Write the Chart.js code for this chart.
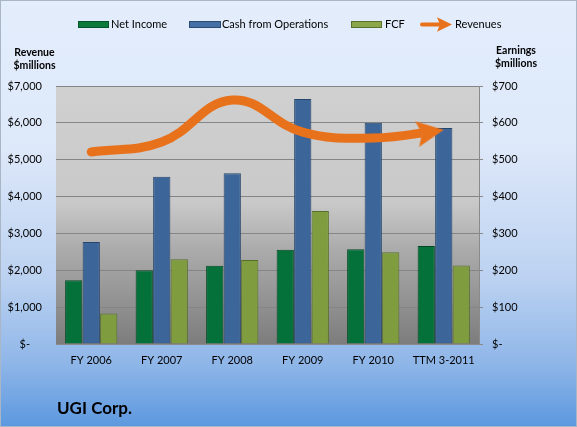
<!DOCTYPE html>
<html><head><meta charset="utf-8">
<script src="https://cdn.jsdelivr.net/npm/chart.js@4.4.1/dist/chart.umd.min.js"></script>
<style>
html,body{margin:0;padding:0;background:#fff;}
#c{display:block;}
</style></head>
<body>
<canvas id="c" width="577" height="427" style="width:577px;height:427px"></canvas>
<script>
const categories = ['FY 2006', 'FY 2007', 'FY 2008', 'FY 2009', 'FY 2010', 'TTM 3-2011'];
const netIncome = [173, 200, 212, 256, 257, 266];
const cashFromOperations = [277, 454, 463, 665, 600, 586];
const freeCashFlow = [83, 230, 228, 361, 249, 213];
const revenues = [5210, 5480, 6620, 5750, 5590, 5810];
const revenueTicks = [0, 1000, 2000, 3000, 4000, 5000, 6000, 7000];
const earningsTicks = [0, 100, 200, 300, 400, 500, 600, 700];
const seriesNames = ['Net Income', 'Cash from Operations', 'FCF', 'Revenues'];
const chartTitle = 'UGI Corp.';

const FONT = 'Lato, "DejaVu Sans", sans-serif';
const ORANGE = '#E8721C';

// arrow head image (tip at the image centre)
const arrowImg = document.createElement('canvas');
arrowImg.width = 60; arrowImg.height = 30;
(function(){
  const g = arrowImg.getContext('2d');
  g.fillStyle = ORANGE;
  g.beginPath();
  g.moveTo(30, 15);
  g.lineTo(3, 2);
  g.lineTo(8, 15);
  g.lineTo(3, 28);
  g.closePath();
  g.fill();
})();

const decorPlugin = {
  id: 'decor',
  beforeDraw(chart) {
    const ctx = chart.ctx;
    const W = chart.width, H = chart.height;
    ctx.save();
    // page background
    const pg = ctx.createLinearGradient(0, 0, 0, H);
    pg.addColorStop(0, '#E3EDFC');
    pg.addColorStop(0.35, '#DDE8F9');
    pg.addColorStop(0.65, '#BCD2F1');
    pg.addColorStop(0.85, '#8FB6E8');
    pg.addColorStop(1, '#5C98DF');
    ctx.fillStyle = pg;
    ctx.fillRect(0, 0, W, H);
    ctx.strokeStyle = '#A9B6C6';
    ctx.lineWidth = 1;
    ctx.strokeRect(0.5, 0.5, W - 1, H - 1);
    // plot area background
    const a = chart.chartArea;
    const bg = ctx.createLinearGradient(0, a.top, 0, a.bottom);
    bg.addColorStop(0, '#D0D0D0');
    bg.addColorStop(0.45, '#C9C9C9');
    bg.addColorStop(0.62, '#ADADAD');
    bg.addColorStop(1, '#7D7D7D');
    ctx.fillStyle = bg;
    ctx.fillRect(a.left, a.top, a.right - a.left, a.bottom - a.top);
    ctx.restore();
  },
  afterDraw(chart) {
    const ctx = chart.ctx;
    ctx.save();
    // legend
    const swatches = [
      {x: 78, w: 31, fill: '#0B7A3B', stroke: '#05532A', text: seriesNames[0], tx: 111},
      {x: 189, w: 32, fill: '#4570A6', stroke: '#2B4A74', text: seriesNames[1], tx: 222},
      {x: 351, w: 31, fill: '#8AA849', stroke: '#5A702C', text: seriesNames[2], tx: 385}
    ];
    ctx.font = '11px ' + FONT;
    ctx.textBaseline = 'middle';
    ctx.textAlign = 'left';
    swatches.forEach(s => {
      ctx.fillStyle = s.fill;
      ctx.fillRect(s.x, 21.5, s.w, 6);
      ctx.strokeStyle = s.stroke;
      ctx.lineWidth = 1;
      ctx.strokeRect(s.x + 0.5, 21.5, s.w - 1, 6);
      ctx.fillStyle = '#000';
      ctx.fillText(s.text, s.tx, 24.5);
    });
    // revenue arrow in legend
    ctx.strokeStyle = ORANGE;
    ctx.lineWidth = 4;
    ctx.lineCap = 'round';
    ctx.beginPath();
    ctx.moveTo(422, 24.5);
    ctx.lineTo(440, 24.5);
    ctx.stroke();
    ctx.fillStyle = ORANGE;
    ctx.beginPath();
    ctx.moveTo(452, 24.5);
    ctx.lineTo(437, 17.3);
    ctx.lineTo(440, 24.5);
    ctx.lineTo(437, 31.7);
    ctx.closePath();
    ctx.fill();
    ctx.fillStyle = '#000';
    ctx.fillText(seriesNames[3], 455, 24.5);
    // axis titles
    ctx.font = 'bold 10.5px ' + FONT;
    ctx.textAlign = 'center';
    ctx.fillText('Revenue', 34.5, 52.5);
    ctx.fillText('$millions', 34.5, 65.5);
    ctx.fillText('Earnings', 516, 51);
    ctx.fillText('$millions', 516, 64);
    // chart title
    ctx.font = 'bold 17px ' + FONT;
    ctx.textAlign = 'left';
    ctx.fillText(chartTitle, 57, 409);
    ctx.restore();
  }
};

const money = v => v === 0 ? '$-' : '$' + v.toLocaleString('en-US');

const barStyle = (fill, border) => ({
  backgroundColor: fill,
  borderColor: border,
  borderWidth: 1,
  yAxisID: 'y1',
  barPercentage: 0.985,
  categoryPercentage: 0.745,
  order: 2
});

new Chart(document.getElementById('c'), {
  type: 'bar',
  data: {
    labels: categories,
    datasets: [
      Object.assign({label: seriesNames[0], data: netIncome}, barStyle('#04703A', '#024A25')),
      Object.assign({label: seriesNames[1], data: cashFromOperations}, barStyle('#3C6699', '#26456C')),
      Object.assign({label: seriesNames[2], data: freeCashFlow}, barStyle('#7F9D3E', '#56702A')),
      {
        type: 'line',
        label: seriesNames[3],
        data: revenues,
        yAxisID: 'y',
        borderColor: ORANGE,
        borderWidth: 9,
        borderCapStyle: 'round',
        borderJoinStyle: 'round',
        tension: 0.42,
        pointRadius: 0,
        fill: false,
        clip: {left: false, top: false, bottom: false, right: -57},
        order: 0
      },
      {
        type: 'line',
        label: 'arrowhead',
        data: revenues,
        yAxisID: 'y',
        showLine: false,
        pointRadius: c => c.dataIndex === revenues.length - 1 ? 12 : 0,
        pointHoverRadius: 0,
        pointStyle: c => c.dataIndex === revenues.length - 1 ? arrowImg : 'circle',
        pointRotation: -9,
        order: 0
      }
    ]
  },
  options: {
    responsive: false,
    animation: false,
    devicePixelRatio: 1,
    events: [],
    layout: {padding: {top: 86, left: 0, right: 0, bottom: 0}},
    plugins: {legend: {display: false}, title: {display: false}, tooltip: {enabled: false}},
    scales: {
      x: {
        afterFit: s => { s.height = 427 - 344; },
        grid: {display: false, drawTicks: false},
        border: {display: true, color: '#8A8A8A', width: 1},
        ticks: {padding: 10, color: '#000', font: {family: FONT, size: 11}, maxRotation: 0, autoSkip: false}
      },
      y: {
        position: 'left',
        min: 0, max: 7000,
        afterFit: s => { s.width = 56; },
        afterBuildTicks: s => { s.ticks = revenueTicks.map(v => ({value: v})); },
        grid: {color: '#858585', lineWidth: 1, drawTicks: false},
        border: {display: false},
        ticks: {
          padding: 14, color: '#000', font: {family: FONT, size: 11},
          callback: v => v === 0 ? '$-\u2007  ' : money(v)
        }
      },
      y1: {
        position: 'right',
        min: 0, max: 700,
        afterFit: s => { s.width = 577 - 479; },
        afterBuildTicks: s => { s.ticks = earningsTicks.map(v => ({value: v})); },
        grid: {drawOnChartArea: false, drawTicks: true, tickLength: 4, color: '#8A8A8A'},
        border: {display: true, color: '#8A8A8A', width: 1},
        ticks: {padding: 9, color: '#000', font: {family: FONT, size: 11}, callback: money}
      }
    }
  },
  plugins: [decorPlugin]
});
</script>
</body></html>
